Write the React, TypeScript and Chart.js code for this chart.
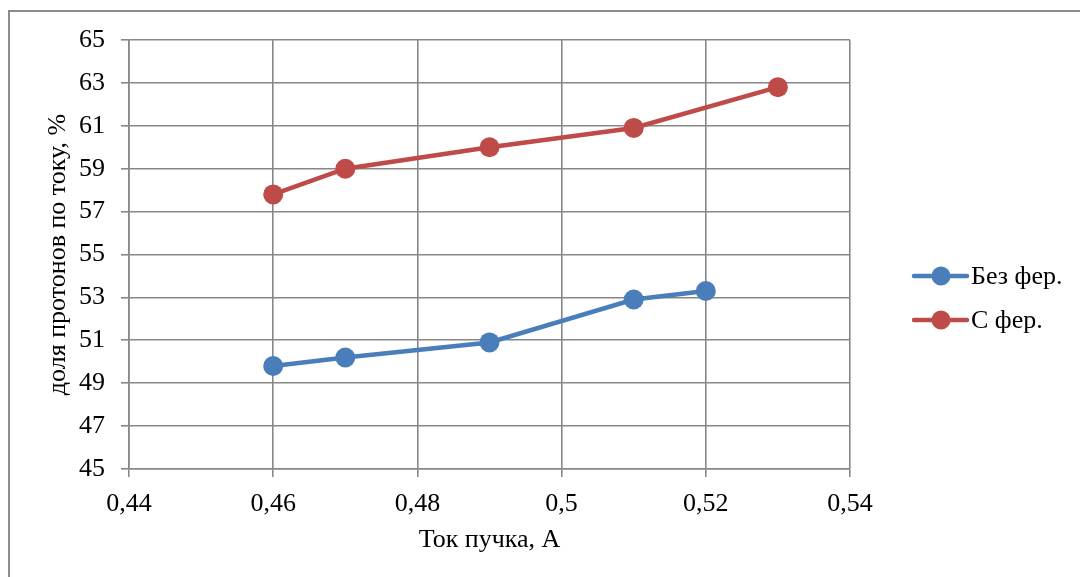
import React, { useEffect, useRef } from "react";
import { Chart, registerables } from "chart.js";

Chart.register(...registerables);

const seriesNames = ["Без фер.", "С фер."];
const xBez = [0.46, 0.47, 0.49, 0.51, 0.52];
const yBez = [49.8, 50.2, 50.9, 52.9, 53.3];
const xSfer = [0.46, 0.47, 0.49, 0.51, 0.53];
const ySfer = [57.8, 59.0, 60.0, 60.9, 62.8];
const xTitle = "Ток пучка, А";
const yTitle = "доля протонов по току, %";
const colors = ["#4A7EBB", "#BE4B48"];

const FONT = "'Liberation Serif', 'Times New Roman', serif";

const legendPlugin = {
  id: "customLegend",
  afterDraw(chart: any) {
    const ctx = chart.ctx;
    const ys = [276, 320];
    ctx.save();
    chart.data.datasets.forEach((ds: any, i: number) => {
      const y = ys[i];
      ctx.strokeStyle = ds.borderColor;
      ctx.lineWidth = 4.5;
      ctx.lineCap = "round";
      ctx.beginPath();
      ctx.moveTo(914, y);
      ctx.lineTo(967, y);
      ctx.stroke();
      ctx.fillStyle = ds.backgroundColor;
      ctx.beginPath();
      ctx.arc(941, y, 9.5, 0, Math.PI * 2);
      ctx.fill();
      ctx.fillStyle = "#000";
      ctx.font = `26px ${FONT}`;
      ctx.textAlign = "left";
      ctx.textBaseline = "middle";
      ctx.fillText(ds.label, 971, y + 1);
    });
    ctx.restore();
  },
};

function fmt(v: number) {
  return String(Number(v.toFixed(2))).replace(".", ",");
}

export default function App() {
  const ref = useRef<HTMLCanvasElement>(null);
  useEffect(() => {
    if (!ref.current) return;
    const grid = {
      color: "#878787",
      lineWidth: 1.6,
      tickLength: 8,
      drawTicks: true,
    };
    const chart = new Chart(ref.current, {
      type: "line",
      data: {
        datasets: [
          {
            label: seriesNames[0],
            data: xBez.map((x, i) => ({ x, y: yBez[i] })),
            borderColor: colors[0],
            backgroundColor: colors[0],
            borderWidth: 4.5,
            pointRadius: 10,
            pointBorderWidth: 0,
            pointHoverRadius: 10,
            tension: 0,
          },
          {
            label: seriesNames[1],
            data: xSfer.map((x, i) => ({ x, y: ySfer[i] })),
            borderColor: colors[1],
            backgroundColor: colors[1],
            borderWidth: 4.5,
            pointRadius: 10,
            pointBorderWidth: 0,
            pointHoverRadius: 10,
            tension: 0,
          },
        ],
      },
      options: {
        animation: false,
        responsive: false,
        maintainAspectRatio: false,
        devicePixelRatio: 1,
        layout: { padding: { left: 0, top: 40, right: 230, bottom: 0 } },
        plugins: {
          legend: { display: false },
          tooltip: { enabled: false },
        },
        scales: {
          x: {
            type: "linear",
            min: 0.44,
            max: 0.54,
            grid,
            border: { color: "#878787", width: 1.6 },
            ticks: {
              stepSize: 0.02,
              color: "#000",
              font: { family: FONT, size: 26 },
              padding: 12,
              maxRotation: 0,
              callback: (v: any) => fmt(Number(v)),
            },
            title: {
              display: true,
              text: xTitle,
              color: "#000",
              font: { family: FONT, size: 26 },
              padding: { top: 0, bottom: 21 },
            },
            afterFit: (s: any) => {
              s.height = 108;
            },
          },
          y: {
            type: "linear",
            min: 45,
            max: 65,
            grid,
            border: { color: "#878787", width: 1.6 },
            ticks: {
              stepSize: 2,
              color: "#000",
              font: { family: FONT, size: 26 },
              padding: 16,
            },
            title: {
              display: true,
              text: yTitle,
              color: "#000",
              font: { family: FONT, size: 26 },
              padding: { top: 43, bottom: 0 },
            },
            afterFit: (s: any) => {
              s.width = 129;
            },
          },
        },
      },
      plugins: [legendPlugin],
    });
    return () => chart.destroy();
  }, []);

  return (
    <div
      style={{
        position: "fixed",
        left: 0,
        top: 0,
        width: 1080,
        height: 577,
        overflow: "hidden",
        background: "#fff",
      }}
    >
      <div
        style={{
          position: "absolute",
          left: 8,
          top: 10,
          width: 1100,
          height: 600,
          border: "2px solid #8c8c8c",
        }}
      />
      <canvas
        ref={ref}
        width={1080}
        height={577}
        style={{ position: "absolute", left: 0, top: 0 }}
      />
    </div>
  );
}
